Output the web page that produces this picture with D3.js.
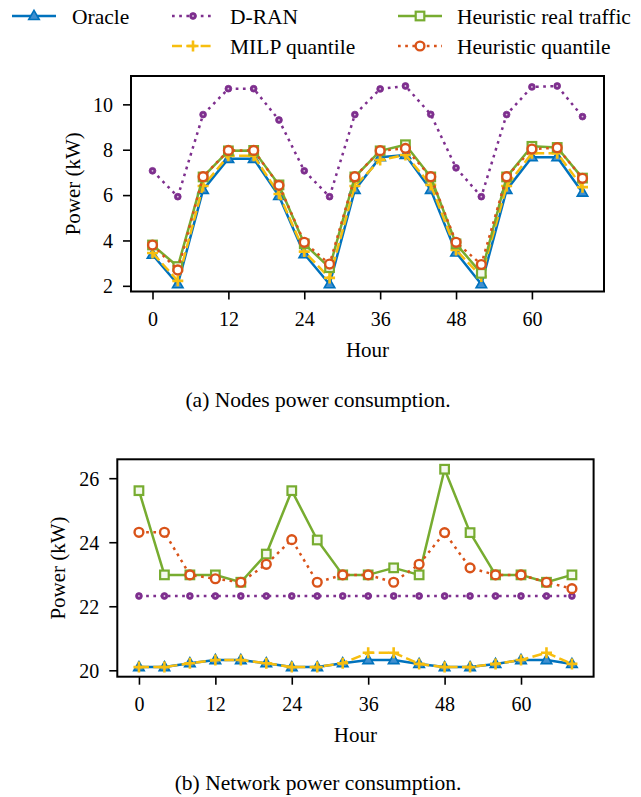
<!DOCTYPE html>
<html>
<head>
<meta charset="utf-8">
<script src="https://cdn.jsdelivr.net/npm/d3@7"></script>
<style>
  html, body { margin: 0; padding: 0; background: #fff; }
  svg { display: block; }
  svg text { font-family: "Liberation Serif", "Times New Roman", Times, "DejaVu Serif", "Noto Serif", serif !important; }
</style>
</head>
<body>
<svg id="chart" width="641" height="797"></svg>
<script>
// ---------- data ----------
const hours = [0, 4, 8, 12, 16, 20, 24, 28, 32, 36, 40, 44, 48, 52, 56, 60, 64, 68];
const xTicks = [0, 12, 24, 36, 48, 60];

const seriesNames = ["Oracle", "D-RAN", "MILP quantile", "Heuristic real traffic", "Heuristic quantile"];

// (a) Nodes power consumption (kW)
const nodesOracle   = [3.37, 2.07, 6.23, 7.60, 7.60, 5.96, 3.40, 2.07, 6.23, 7.67, 7.77, 6.23, 3.47, 2.07, 6.23, 7.67, 7.67, 6.11];
const nodesDran     = [7.07, 5.93, 9.55, 10.69, 10.69, 9.31, 7.07, 5.93, 9.55, 10.68, 10.81, 9.56, 7.20, 5.93, 9.55, 10.77, 10.81, 9.46];
const nodesMilp     = [3.45, 2.22, 6.40, 7.73, 7.73, 6.05, 3.51, 2.35, 6.40, 7.55, 7.77, 6.45, 3.58, 2.41, 6.40, 7.85, 7.85, 6.35];
const nodesHeurReal = [3.80, 2.85, 6.80, 7.95, 7.97, 6.45, 3.85, 2.80, 6.80, 7.95, 8.22, 6.80, 3.85, 2.55, 6.80, 8.15, 8.10, 6.75];
const nodesHeurQ    = [3.80, 2.70, 6.81, 7.97, 7.97, 6.43, 3.92, 2.96, 6.81, 7.96, 8.06, 6.81, 3.92, 2.94, 6.81, 8.03, 8.09, 6.74];
const nodesYTicks   = [2, 4, 6, 8, 10];

// (b) Network power consumption (kW)
const netOracle   = [20.10, 20.10, 20.22, 20.32, 20.32, 20.22, 20.10, 20.10, 20.22, 20.32, 20.32, 20.20, 20.10, 20.10, 20.20, 20.32, 20.32, 20.20];
const netDran     = [22.32, 22.32, 22.32, 22.32, 22.32, 22.32, 22.32, 22.32, 22.32, 22.32, 22.32, 22.32, 22.32, 22.32, 22.32, 22.32, 22.32, 22.32];
const netMilp     = [20.10, 20.10, 20.22, 20.32, 20.32, 20.22, 20.10, 20.10, 20.22, 20.55, 20.55, 20.20, 20.10, 20.10, 20.20, 20.32, 20.55, 20.20];
const netHeurReal = [25.61, 22.98, 22.98, 22.98, 22.75, 23.63, 25.61, 24.07, 22.98, 22.98, 23.20, 22.98, 26.28, 24.30, 22.98, 22.98, 22.75, 22.98];
const netHeurQ    = [24.31, 24.31, 22.98, 22.86, 22.75, 23.31, 24.08, 22.75, 22.98, 22.98, 22.75, 23.31, 24.30, 23.20, 22.98, 22.98, 22.75, 22.55];
const netYTicks   = [20, 22, 24, 26];

const xLabel = "Hour";
const yLabel = "Power (kW)";
const captionA = "(a) Nodes power consumption.";
const captionB = "(b) Network power consumption.";

// ---------- styles ----------
const FONT = '"Liberation Serif", "Times New Roman", Times, "DejaVu Serif", "Noto Serif", serif';
const styles = {
  "Oracle":                 { color: "#0072BD", dash: null,      marker: "triangle" },
  "D-RAN":                  { color: "#7E2F8E", dash: "2.7,4.5", marker: "dot" },
  "MILP quantile":          { color: "#F7BE0F", dash: "10,4.3",  marker: "plus" },
  "Heuristic real traffic": { color: "#77AC30", dash: null,      marker: "square" },
  "Heuristic quantile":     { color: "#D95319", dash: "2.7,4.5", marker: "circle" }
};
const drawOrder = ["Oracle", "D-RAN", "MILP quantile", "Heuristic real traffic", "Heuristic quantile"];

const svg = d3.select("#chart");

function drawMarker(g, kind, color, x, y) {
  if (kind === "triangle") {
    g.append("path")
      .attr("d", d3.symbol(d3.symbolTriangle, 48)())
      .attr("transform", `translate(${x},${y + 0.5})`)
      .attr("fill", "#3f8fd0").attr("stroke", color).attr("stroke-width", 1.6);
  } else if (kind === "dot") {
    g.append("circle").attr("cx", x).attr("cy", y).attr("r", 3.4)
      .attr("fill", color).attr("stroke", color).attr("stroke-width", 0.8);
    g.append("circle").attr("cx", x).attr("cy", y).attr("r", 0.9).attr("fill", "#d9c4de");
  } else if (kind === "plus") {
    g.append("path")
      .attr("d", `M${x - 5.5},${y}H${x + 5.5}M${x},${y - 5.5}V${y + 5.5}`)
      .attr("stroke", color).attr("stroke-width", 2.6).attr("fill", "none");
  } else if (kind === "square") {
    g.append("rect").attr("x", x - 4.3).attr("y", y - 4.3).attr("width", 8.6).attr("height", 8.6)
      .attr("fill", "#f4f9ee").attr("stroke", color).attr("stroke-width", 2.2);
  } else if (kind === "circle") {
    g.append("circle").attr("cx", x).attr("cy", y).attr("r", 4.4)
      .attr("fill", "#fff").attr("stroke", color).attr("stroke-width", 2.4);
  }
}

function addText(g, size) {
  return g.append("text").attr("font-family", FONT).style("font-family", FONT)
    .attr("fill", "#000").style("font-size", size + "px");
}

function drawPanel(cfg) {
  const x = d3.scaleLinear().domain(cfg.xDomain).range([cfg.left, cfg.right]);
  const y = d3.scaleLinear().domain(cfg.yDomain).range([cfg.bottom, cfg.top]);
  const g = svg.append("g");

  drawOrder.forEach(name => {
    const st = styles[name];
    const vals = cfg.series[name];
    const pts = hours.map((h, i) => [x(h), y(vals[i])]);
    g.append("path")
      .attr("d", d3.line()(pts))
      .attr("fill", "none")
      .attr("stroke", st.color)
      .attr("stroke-width", 2.5)
      .attr("stroke-dasharray", st.dash)
      .attr("stroke-linejoin", "round");
    const mg = g.append("g");
    pts.forEach(p => drawMarker(mg, st.marker, st.color, p[0], p[1]));
  });

  const xAxis = d3.axisBottom(x).tickValues(xTicks).tickSize(8).tickPadding(10).tickFormat(d3.format("d"));
  const yAxis = d3.axisLeft(y).tickValues(cfg.yTicks).tickSize(8).tickPadding(10).tickFormat(d3.format("d"));
  const gx = g.append("g").attr("transform", `translate(0,${cfg.bottom})`).call(xAxis);
  const gy = g.append("g").attr("transform", `translate(${cfg.left},0)`).call(yAxis);
  [gx, gy].forEach(a => {
    a.attr("font-family", FONT).attr("font-size", null);
    a.select(".domain").remove();
    a.selectAll(".tick line").attr("stroke", "#000").attr("stroke-width", 1.6);
    a.selectAll(".tick text").attr("fill", "#000").attr("font-family", FONT)
      .style("font-size", "20px").style("font-family", FONT);
  });
  gx.selectAll(".tick text").attr("dy", null).attr("y", 34.5);
  gy.selectAll(".tick text").attr("dy", "0.34em");

  g.append("rect")
    .attr("x", cfg.left).attr("y", cfg.top)
    .attr("width", cfg.right - cfg.left).attr("height", cfg.bottom - cfg.top)
    .attr("fill", "none").attr("stroke", "#000").attr("stroke-width", 2);

  addText(g, 21).attr("x", (cfg.left + cfg.right) / 2).attr("y", cfg.bottom + 65)
    .attr("text-anchor", "middle").text(xLabel);
  addText(g, 21)
    .attr("transform", `translate(${cfg.yLabelX},${(cfg.top + cfg.bottom) / 2}) rotate(-90)`)
    .attr("text-anchor", "middle").attr("dominant-baseline", "central").text(yLabel);
  addText(g, 21.5).attr("x", 318).attr("y", cfg.captionY)
    .attr("text-anchor", "middle").text(cfg.caption);
}

drawPanel({
  left: 131, right: 604, top: 76, bottom: 291.5,
  xDomain: [-3.4, 71.4], yDomain: [1.75, 11.25],
  yTicks: nodesYTicks, yLabelX: 73, captionY: 406.5, caption: captionA,
  series: {
    "Oracle": nodesOracle, "D-RAN": nodesDran, "MILP quantile": nodesMilp,
    "Heuristic real traffic": nodesHeurReal, "Heuristic quantile": nodesHeurQ
  }
});

drawPanel({
  left: 117.3, right: 593.6, top: 459.3, bottom: 676.7,
  xDomain: [-3.4, 71.4], yDomain: [19.8, 26.59],
  yTicks: netYTicks, yLabelX: 58, captionY: 790, caption: captionB,
  series: {
    "Oracle": netOracle, "D-RAN": netDran, "MILP quantile": netMilp,
    "Heuristic real traffic": netHeurReal, "Heuristic quantile": netHeurQ
  }
});

// ---------- legend ----------
const legendPos = [
  { name: "Oracle",                 x1: 12,  x2: 56,  tx: 72,  y: 16 },
  { name: "D-RAN",                  x1: 172, x2: 214, tx: 230, y: 16 },
  { name: "MILP quantile",          x1: 172, x2: 214, tx: 230, y: 46 },
  { name: "Heuristic real traffic", x1: 398, x2: 442, tx: 457, y: 16 },
  { name: "Heuristic quantile",     x1: 398, x2: 442, tx: 457, y: 46 }
];
const lg = svg.append("g");
legendPos.forEach(e => {
  const st = styles[e.name];
  lg.append("line").attr("x1", e.x1).attr("x2", e.x2).attr("y1", e.y).attr("y2", e.y)
    .attr("stroke", st.color).attr("stroke-width", 2.5).attr("stroke-dasharray", st.dash);
  drawMarker(lg, st.marker, st.color, (e.x1 + e.x2) / 2, e.y);
  addText(lg, 21.5).attr("x", e.tx).attr("y", e.y).attr("dy", "0.35em").text(e.name);
});
</script>
</body>
</html>
